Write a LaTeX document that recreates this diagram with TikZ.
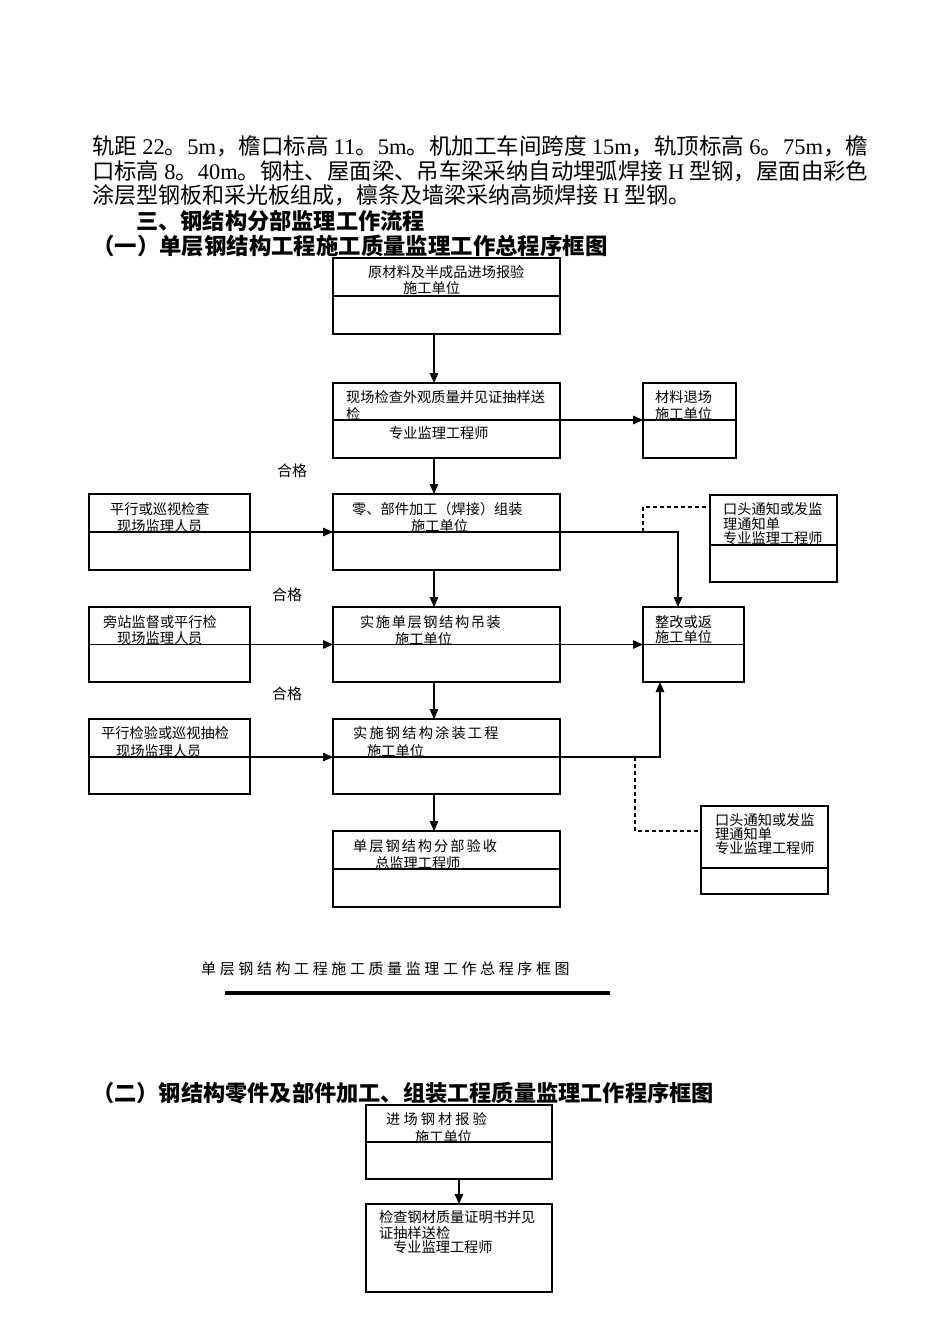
\documentclass[tikz,border=0pt]{standalone}
\usepackage{fontspec}
\usepackage{graphicx}
\setmainfont{Noto Sans CJK SC}
\newfontfamily\lat{Liberation Serif}
\usetikzlibrary{arrows.meta}
\makeatletter
\newcommand\spaced[2]{\@tfor\sp@ch:=#2\do{\sp@ch\kern#1}\unkern}
\makeatother
\newcommand\mkbox[6]{%
  \pgfmathsetmacro\bw{#4-#2}\pgfmathsetmacro\bh{#5-#3}%
  \node[boxst, minimum width=\bw pt, minimum height=\bh pt] (#1) at (#2,#3) {};
  \coordinate (#1-dl) at (#2,#6); \coordinate (#1-dr) at (#4,#6);
  \draw[divst] (#1-dl) -- (#1-dr);}
\newcommand\mkboxnd[5]{%
  \pgfmathsetmacro\bw{#4-#2}\pgfmathsetmacro\bh{#5-#3}%
  \node[boxst, minimum width=\bw pt, minimum height=\bh pt] (#1) at (#2,#3) {};}
\begin{document}
\begin{tikzpicture}[x=1pt,y=-1pt,
  boxst/.style={draw, line width=1.2pt, anchor=north west, inner sep=0pt, outer sep=0pt},
  divst/.style={line width=1.2pt},
  txt/.style={anchor=west, inner sep=0pt, font=\fontsize{14.2}{14.2}\selectfont},
  para/.style={anchor=west, inner sep=0pt, font=\fontsize{22.3}{22.3}\selectfont},
  head/.style={anchor=west, inner sep=0pt, font=\fontsize{22.2}{22.2}\selectfont\bfseries},
  ok/.style={anchor=west, inner sep=0pt, font=\fontsize{15}{15}\selectfont},
  arr/.style={line width=1.2pt, -{Triangle[length=10pt,width=8.5pt]}},
  ln/.style={line width=1.2pt},
  dsh/.style={line width=1.2pt, dash pattern=on 4pt off 3pt}]
\useasboundingbox (0,0) rectangle (950,1344);
\fill[white] (0,0) rectangle (950,1344);

% paragraph
\node[para] (p1) at (92,146) {\resizebox{776pt}{\height}{轨距 {\lat 22}。{\lat 5m}，檐口标高 {\lat 11}。{\lat 5m}。机加工车间跨度 {\lat 15m}，轨顶标高 {\lat 6}。{\lat 75m}，檐}};
\node[para] (p2) at (92,171) {\resizebox{776pt}{\height}{口标高 {\lat 8}。{\lat 40m}。钢柱、屋面梁、吊车梁采纳自动埋弧焊接 {\lat H} 型钢，屋面由彩色}};
\node[para] (p3) at (92,195) {\resizebox{598pt}{\height}{涂层型钢板和采光板组成，檩条及墙梁采纳高频焊接 {\lat H} 型钢。}};
\node[head] (h1) at (136,221) {三、钢结构分部监理工作流程};
\node[head, font=\fontsize{22.4}{22.4}\selectfont\bfseries] (h2) at (92,246) {（一）单层钢结构工程施工质量监理工作总程序框图};

% boxes
\mkbox{b1}{333}{258}{560}{334}{296}
\mkbox{b2}{333}{383}{560}{458}{420}
\mkbox{m1}{643}{383}{736}{458}{420}
\mkbox{L1}{89}{494}{250}{570}{532}
\mkbox{b3}{333}{494}{560}{570}{532}
\mkbox{n1}{710}{495}{837}{582}{545}
\mkbox{L2}{89}{607}{250}{682}{644.5}
\mkbox{b4}{333}{607}{560}{682}{644.5}
\mkbox{r1}{643}{607}{744}{682}{644.5}
\mkbox{L3}{89}{719}{250}{794}{757}
\mkbox{b5}{333}{719}{560}{794}{757}
\mkbox{n2}{701}{806}{828}{894}{868}
\mkbox{b6}{333}{831}{560}{907}{869}
\mkbox{b7}{366}{1105}{552}{1179}{1142}
\mkboxnd{b8}{366}{1204}{552}{1292}

% texts
\node[txt] (t1a) at (368,272) {原材料及半成品进场报验};
\node[txt] (t1b) at (403,288) {施工单位};
\node[txt] (t2a) at (346,397) {现场检查外观质量并见证抽样送};
\node[txt] (t2b) at (346,414) {检};
\node[txt] (t2c) at (389,433) {专业监理工程师};
\node[txt] (tma) at (655,397) {材料退场};
\node[txt] (tmb) at (655,414) {施工单位};
\node[txt] (tl1a) at (110,509) {平行或巡视检查};
\node[txt] (tl1b) at (117,526) {现场监理人员};
\node[txt] (t3a) at (352,509) {零、部件加工（焊接）组装};
\node[txt] (t3b) at (411,526) {施工单位};
\node[txt] (tn1a) at (723,509) {口头通知或发监};
\node[txt] (tn1b) at (723,524) {理通知单};
\node[txt] (tn1c) at (723,538) {专业监理工程师};
\node[txt] (tl2a) at (103,622) {旁站监督或平行检};
\node[txt] (tl2b) at (117,638) {现场监理人员};
\node[txt] (t4a) at (360,622) {\spaced{1.6pt}{实施单层钢结构吊装}};
\node[txt] (t4b) at (395,639) {施工单位};
\node[txt] (tra) at (655,622) {整改或返};
\node[txt] (trb) at (655,637) {施工单位};
\node[txt] (tl3a) at (101,733) {平行检验或巡视抽检};
\node[txt] (tl3b) at (116,751) {现场监理人员};
\node[txt] (t5a) at (353,733) {\spaced{2.2pt}{实施钢结构涂装工程}};
\node[txt] (t5b) at (367,751) {施工单位};
\node[txt] (tn2a) at (715,820) {口头通知或发监};
\node[txt] (tn2b) at (715,834) {理通知单};
\node[txt] (tn2c) at (715,848) {专业监理工程师};
\node[txt] (t6a) at (353,846) {\spaced{2pt}{单层钢结构分部验收}};
\node[txt] (t6b) at (375,863) {总监理工程师};
\node[txt] (t7a) at (386,1119) {\spaced{3.1pt}{进场钢材报验}};
\node[txt] (t7b) at (415,1137) {施工单位};
\node[txt] (t8a) at (379,1217) {检查钢材质量证明书并见};
\node[txt] (t8b) at (379,1233) {证抽样送检};
\node[txt] (t8c) at (393,1247) {专业监理工程师};

\node[ok] (ok1) at (277,471) {合格};
\node[ok] (ok2) at (272,595) {合格};
\node[ok] (ok3) at (272,694) {合格};

% connectors
\draw[arr] ([xshift=-12.5pt]b1.south) -- ([xshift=-12.5pt]b2.north);
\draw[arr] (b2-dr) -- (m1-dl);
\draw[arr] ([xshift=-12.5pt]b2.south) -- ([xshift=-12.5pt]b3.north);
\draw[arr] (L1-dr) -- (b3-dl);
\draw[arr] (b3-dr) -| ([xshift=-15.5pt]r1.north);
\coordinate (j1) at (643,532);
\draw[dsh] (j1) |- ([yshift=31.5pt]n1.west);
\draw[arr] ([xshift=-12.5pt]b3.south) -- ([xshift=-12.5pt]b4.north);
\draw[arr] (L2-dr) -- (b4-dl);
\draw[arr] (b4-dr) -- (r1-dl);
\draw[arr] ([xshift=-12.5pt]b4.south) -- ([xshift=-12.5pt]b5.north);
\draw[arr] (L3-dr) -- (b5-dl);
\draw[arr] (b5-dr) -| ([xshift=-33.5pt]r1.south);
\coordinate (j2) at (635,757);
\draw[dsh] (j2) |- ([yshift=19pt]n2.west);
\draw[arr] ([xshift=-12.5pt]b5.south) -- ([xshift=-12.5pt]b6.north);
\draw[arr] (b7.south) -- (b8.north);

% caption
\node[ok] (cap) at (201,969) {\spaced{3.6pt}{单层钢结构工程施工质量监理工作总程序框图}};
\coordinate (c1) at (225,993); \coordinate (c2) at (610,993);
\draw[line width=4.3pt] (c1) -- (c2);

\node[head] (h3) at (92,1093) {（二）钢结构零件及部件加工、组装工程质量监理工作程序框图};
\end{tikzpicture}
\end{document}
